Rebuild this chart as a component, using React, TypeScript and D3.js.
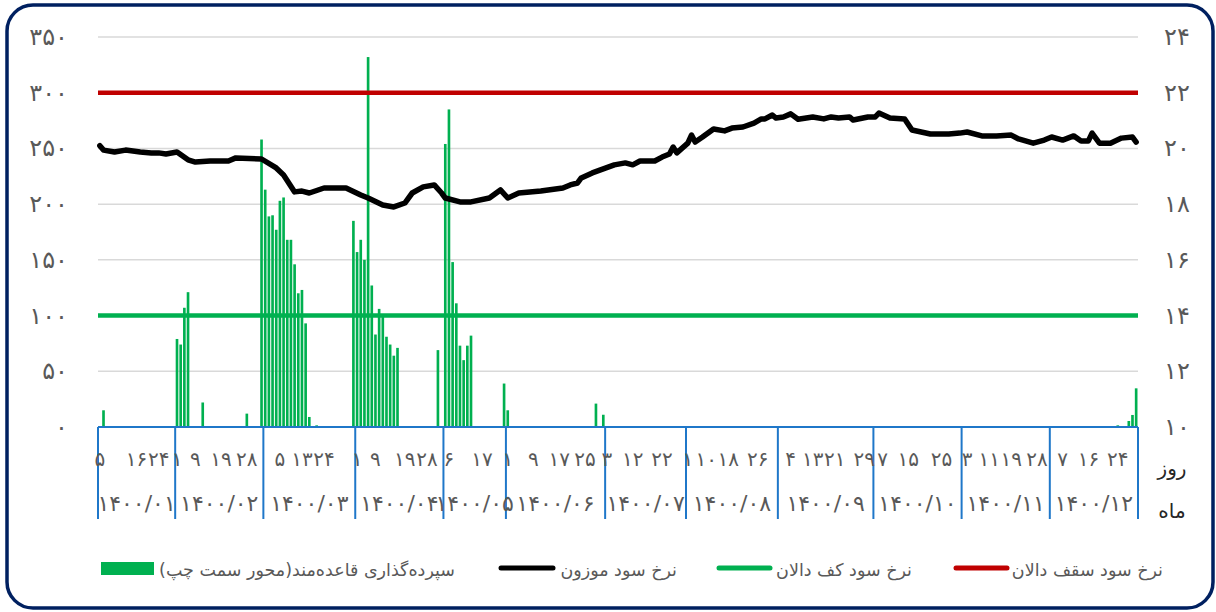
import React from 'react';
import * as d3 from 'd3';

// ---------- data ----------
const months = ['۱۴۰۰/۰۱', '۱۴۰۰/۰۲', '۱۴۰۰/۰۳', '۱۴۰۰/۰۴', '۱۴۰۰/۰۵', '۱۴۰۰/۰۶', '۱۴۰۰/۰۷', '۱۴۰۰/۰۸', '۱۴۰۰/۰۹', '۱۴۰۰/۱۰', '۱۴۰۰/۱۱', '۱۴۰۰/۱۲'];
const monthDayCounts = [21, 24, 25, 24, 17, 27, 22, 25, 26, 24, 24, 24];

// day-of-month tick labels: [day index, label]
const dayTicks: [number, string][] = [
  [0, '۵'], [10, '۱۶'], [16, '۲۴'],
  [21, '۱'], [26, '۹'], [33, '۱۹'], [40, '۲۸'],
  [49, '۵'], [55, '۱۳'], [61, '۲۴'],
  [70, '۱'], [75, '۹'], [83, '۱۹'], [89, '۲۸'],
  [95, '۶'], [104, '۱۷'],
  [111, '۱'], [118, '۹'], [125, '۱۷'], [132, '۲۵'],
  [138, '۳'], [145, '۱۲'], [153, '۲۲'],
  [160, '۱'], [165, '۱۰'], [171, '۱۸'], [179, '۲۶'],
  [188, '۴'], [194, '۱۳'], [200, '۲۱'], [208, '۲۹'],
  [213, '۷'], [220, '۱۵'], [229, '۲۵'],
  [236, '۳'], [242, '۱۱'], [248, '۱۹'], [255, '۲۸'],
  [262, '۷'], [269, '۱۶'], [277, '۲۴'],
];

// regular deposits (left axis)
const depositDay = [1, 21, 22, 23, 24, 28, 40,
  44, 45, 46, 47, 48, 49, 50, 51, 52, 53, 54, 55, 56, 57, 59,
  69, 70, 71, 72, 73, 74, 75, 76, 77, 78, 79, 80, 81,
  92, 94, 95, 96, 97, 98, 99, 100, 101,
  110, 111, 135, 137, 277, 280, 281, 282];
const depositValue = [15, 79, 74, 107, 121, 22, 12,
  258, 213, 189, 190, 177, 203, 206, 168, 168, 146, 120, 123, 93, 9, 1.5,
  185, 157, 168, 150, 332, 127, 83, 106, 99, 81, 74, 64, 71,
  69, 254, 285, 148, 111, 73, 60, 73, 82,
  39, 15, 21, 11, 1.5, 5.4, 10.8, 34.7];

// weighted interest rate (right axis)
const rateDay = [0, 1, 4, 7, 11, 14, 16, 18, 21, 24, 26, 30, 35, 37, 44, 48, 50, 53, 55, 57, 61, 67,
  71, 73, 77, 80, 83, 85, 88, 91, 93, 94, 98, 101, 106, 109, 111, 114, 120, 126, 128, 130, 131, 134,
  140, 143, 145, 147, 151, 153, 155, 156, 157, 160, 161, 162, 164, 167, 170, 172, 175, 178, 180, 181,
  183, 184, 186, 188, 190, 194, 197, 199, 201, 204, 205, 209, 211, 212, 215, 219, 221, 226, 231, 234,
  236, 240, 244, 248, 250, 254, 257, 259, 262, 265, 267, 269, 270, 272, 275, 278, 281, 282];
const rateValue = [20.1, 19.94, 19.87, 19.94, 19.87, 19.84, 19.84, 19.8, 19.87, 19.59, 19.51, 19.55, 19.55, 19.66, 19.62, 19.3, 19.05, 18.44, 18.47, 18.4, 18.58, 18.58,
  18.33, 18.22, 17.97, 17.9, 18.04, 18.4, 18.62, 18.69, 18.4, 18.22, 18.08, 18.08, 18.22, 18.51, 18.22, 18.4, 18.47, 18.58, 18.69, 18.76, 18.94, 19.12,
  19.41, 19.48, 19.41, 19.55, 19.55, 19.69, 19.8, 20.05, 19.84, 20.19, 20.48, 20.23, 20.41, 20.7, 20.63, 20.73, 20.77, 20.91, 21.06, 21.06,
  21.2, 21.09, 21.13, 21.24, 21.05, 21.13, 21.06, 21.13, 21.09, 21.13, 21.02, 21.13, 21.13, 21.27, 21.09, 21.06, 20.66, 20.52, 20.52, 20.55,
  20.59, 20.45, 20.45, 20.48, 20.34, 20.19, 20.3, 20.41, 20.3, 20.45, 20.27, 20.27, 20.55, 20.19, 20.19, 20.37, 20.41, 20.23];

const corridorCeiling = 22;
const corridorFloor = 14;

const leftTicks = [0, 50, 100, 150, 200, 250, 300, 350];
const rightTicks = [10, 12, 14, 16, 18, 20, 22, 24];

const legendLabels = {
  deposit: 'سپرده\u200cگذاری قاعده\u200cمند(محور سمت چپ)',
  rate: 'نرخ سود موزون',
  floor: 'نرخ سود کف دالان',
  ceiling: 'نرخ سود سقف دالان',
};

// ---------- helpers ----------
const fa = (n: number | string) => String(n).replace(/\d/g, (d) => '۰۱۲۳۴۵۶۷۸۹'[+d]);

const FONT = 'DejaVu Sans, sans-serif';
const GRAY = '#595959';
const BLUE = '#1f77c9';
const GREEN = '#00B050';
const RED = '#C00000';

export default function App() {
  const W = 1216, H = 612;
  const x0 = 98, x1 = 1138, yBottom = 427, yTop = 37;
  const total = d3.sum(monthDayCounts);
  const pi = 0.28;
  const x = d3.scaleBand<number>().domain(d3.range(total)).range([x0, x1]).paddingInner(pi).paddingOuter(pi / 2);
  const step = x.step();
  const bw = x.bandwidth();
  const cx = (i: number) => (x(i) as number) + bw / 2;
  const bx = (k: number) => x0 + k * step;

  const yL = d3.scaleLinear().domain([0, 350]).range([yBottom, yTop]);
  const yR = d3.scaleLinear().domain([10, 24]).range([yBottom, yTop]);

  const cum = [0, ...d3.cumsum(monthDayCounts)];

  const ratePts: [number, number][] = rateDay.map((d, k) => [cx(d), yR(rateValue[k])]);
  const linePath = d3.line()(ratePts) || '';

  return (
    <svg width={W} height={H} style={{ position: 'absolute', left: 0, top: 0, fontFamily: FONT }}>
      <rect x={7} y={5} width={1206} height={603} rx={26} ry={26} fill="#fff" stroke="#002060" strokeWidth={3.5} />

      {/* gridlines */}
      {leftTicks.filter((t) => t > 0).map((t) => (
        <line key={'g' + t} x1={x0} x2={x1} y1={yL(t)} y2={yL(t)} stroke="#d9d9d9" strokeWidth={1.5} />
      ))}

      {/* left axis labels */}
      {leftTicks.map((t) => (
        <text key={'l' + t} x={68} y={yL(t)} textAnchor="end" dominantBaseline="central" fontSize={24} fill={GRAY}>{fa(t)}</text>
      ))}
      {/* right axis labels */}
      {rightTicks.map((t) => (
        <text key={'r' + t} x={1164} y={yR(t)} textAnchor="start" dominantBaseline="central" fontSize={24} fill={GRAY}>{fa(t)}</text>
      ))}

      {/* bars */}
      {depositDay.map((d, k) => (
        <rect key={'b' + k} x={x(d)} y={yL(depositValue[k])} width={bw} height={yBottom - yL(depositValue[k])} fill={GREEN} />
      ))}

      {/* corridor lines */}
      <line x1={x0} x2={x1} y1={yR(corridorCeiling)} y2={yR(corridorCeiling)} stroke={RED} strokeWidth={4.5} />
      <line x1={x0} x2={x1} y1={yR(corridorFloor)} y2={yR(corridorFloor)} stroke={GREEN} strokeWidth={4.5} />

      {/* weighted rate */}
      <path d={linePath} fill="none" stroke="#000" strokeWidth={5.5} strokeLinejoin="round" strokeLinecap="round" />

      {/* category axis */}
      <line x1={x0} x2={x1} y1={yBottom} y2={yBottom} stroke={BLUE} strokeWidth={2} />
      {cum.map((k, j) => (
        <line key={'mb' + j} x1={bx(k)} x2={bx(k)} y1={yBottom} y2={519} stroke={BLUE} strokeWidth={2} />
      ))}
      {dayTicks.map(([d, t], j) => (
        <text key={'d' + j} x={cx(d)} y={459} textAnchor="middle" dominantBaseline="central" fontSize={20} fill={GRAY}>{t}</text>
      ))}
      {months.map((m, j) => (
        <text key={'m' + j} x={(bx(cum[j]) + bx(cum[j + 1])) / 2} y={503} textAnchor="middle" dominantBaseline="central" fontSize={22} fill={GRAY}>{m}</text>
      ))}
      <text x={1172} y={468} textAnchor="middle" dominantBaseline="central" fontSize={20} fill="#262626">روز</text>
      <text x={1172} y={511} textAnchor="middle" dominantBaseline="central" fontSize={20} fill="#262626">ماه</text>

      {/* legend */}
      <rect x={101} y={562} width={53} height={13} fill={GREEN} />
      <text x={455} y={570} direction="rtl" textAnchor="start" dominantBaseline="central" fontSize={17.5} fill={GRAY}>{legendLabels.deposit}</text>
      <line x1={501} x2={553} y1={568} y2={568} stroke="#000" strokeWidth={5} strokeLinecap="round" />
      <text x={677} y={570} direction="rtl" textAnchor="start" dominantBaseline="central" fontSize={17.5} fill={GRAY}>{legendLabels.rate}</text>
      <line x1={719} x2={770} y1={568} y2={568} stroke={GREEN} strokeWidth={5} strokeLinecap="round" />
      <text x={912} y={570} direction="rtl" textAnchor="start" dominantBaseline="central" fontSize={17.5} fill={GRAY}>{legendLabels.floor}</text>
      <line x1={956} x2={1007} y1={568} y2={568} stroke={RED} strokeWidth={5} strokeLinecap="round" />
      <text x={1163} y={570} direction="rtl" textAnchor="start" dominantBaseline="central" fontSize={17.5} fill={GRAY}>{legendLabels.ceiling}</text>
    </svg>
  );
}
